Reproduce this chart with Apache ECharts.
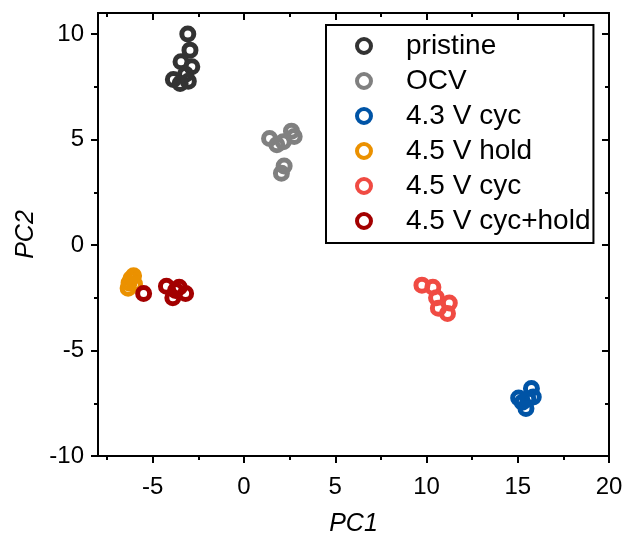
<!DOCTYPE html>
<html>
<head>
<meta charset="utf-8">
<script src="https://cdn.jsdelivr.net/npm/echarts@6/dist/echarts.min.js"></script>
<style>html,body{margin:0;padding:0;background:#fff}#c{width:627px;height:536px}</style>
</head>
<body>
<div id="c"></div>
<script>
const seriesNames = ['pristine', 'OCV', '4.3 V cyc', '4.5 V hold', '4.5 V cyc', '4.5 V cyc+hold'];
const seriesColors = ['#333333', '#808080', '#0054a6', '#eb9100', '#f04b43', '#a30000'];
const pristine = [[-3.08,10.0],[-2.96,9.24],[-3.45,8.69],[-2.86,8.45],[-3.2,8.1],[-3.87,7.85],[-3.5,7.66],[-3.05,7.77]];
const ocv = [[1.4,5.05],[1.8,4.75],[2.15,4.9],[2.6,5.4],[2.75,5.15],[2.2,3.75],[2.05,3.4]];
const v43cyc = [[15.05,-7.25],[15.25,-7.45],[15.75,-6.8],[15.85,-7.2],[15.45,-7.75],[15.55,-7.3]];
const v45hold = [[-6.2,-1.6],[-6.05,-1.45],[-6.35,-2.05],[-6.0,-1.85],[-6.3,-1.8]];
const v45cyc = [[9.75,-1.9],[10.35,-2.0],[10.55,-2.5],[11.25,-2.75],[10.65,-3.0],[11.15,-3.25]];
const v45cychold = [[-5.5,-2.3],[-4.25,-1.95],[-3.9,-2.5],[-3.55,-2.0],[-3.2,-2.3],[-3.75,-2.15]];
const xMajor = [-5, 0, 5, 10, 15, 20];
const xMinor = [-7.5, -2.5, 2.5, 7.5, 12.5, 17.5];
const yMajor = [-10, -5, 0, 5, 10];
const yMinor = [-7.5, -2.5, 2.5, 7.5];

const allData = [pristine, ocv, v43cyc, v45hold, v45cyc, v45cychold];
const font = 'Liberation Sans, Arial, sans-serif';

function axis(base, pos, ticks, len, inside, labels, margin, extra) {
  return Object.assign({
    type: 'value', position: pos, min: base.min, max: base.max,
    axisLine: { show: true, onZero: false, lineStyle: { color: '#000', width: 2 } },
    axisTick: { show: true, inside: inside, length: len, customValues: ticks, lineStyle: { color: '#000', width: 2 } },
    axisLabel: labels ? { show: true, customValues: labels, fontSize: 24, color: '#000', fontFamily: font, margin: margin } : { show: false },
    splitLine: { show: false }
  }, extra || {});
}
const X = { min: -8, max: 20 }, Y = { min: -10, max: 11 };
const nameStyle = { fontSize: 25, fontStyle: 'italic', fontFamily: font, color: '#000' };
const chart = echarts.init(document.getElementById('c'));
chart.setOption({
  animation: false,
  grid: { left: 98, right: 18, top: 13, bottom: 80, containLabel: false, outerBoundsMode: 'none' },
  xAxis: [
    axis(X, 'bottom', xMajor, 7, false, xMajor, 19, { name: 'PC1', nameLocation: 'middle', nameGap: 56, nameTextStyle: nameStyle }),
    axis(X, 'bottom', xMinor, 4, false, null),
    axis(X, 'top', xMajor, 7, true, null),
    axis(X, 'top', xMinor, 4, true, null)
  ],
  yAxis: [
    axis(Y, 'left', yMajor, 7, false, yMajor, 14, { name: 'PC2', nameLocation: 'middle', nameGap: 52, nameRotate: 90, nameTextStyle: nameStyle }),
    axis(Y, 'left', yMinor, 4, false, null),
    axis(Y, 'right', yMajor, 7, true, null),
    axis(Y, 'right', yMinor, 4, true, null)
  ],
  legend: {
    orient: 'vertical', left: 326, top: 25,
    padding: [7, 3, 8, 29], itemGap: 7, itemWidth: 14, itemHeight: 14,
    borderColor: '#000', borderWidth: 2,
    icon: 'circle',
    itemStyle: { color: 'rgba(0,0,0,0)', borderWidth: 4 },
    textStyle: { fontSize: 28, fontFamily: font, color: '#000', padding: [0, 0, 0, 30] },
    data: seriesNames
  },
  series: seriesNames.map((n, i) => ({
    name: n, type: 'scatter', xAxisIndex: 0, yAxisIndex: 0,
    symbol: 'circle', symbolSize: 12,
    itemStyle: { color: 'rgba(0,0,0,0)', borderColor: seriesColors[i], borderWidth: 5, opacity: 1 },
    data: allData[i]
  }))
});
</script>
</body>
</html>
